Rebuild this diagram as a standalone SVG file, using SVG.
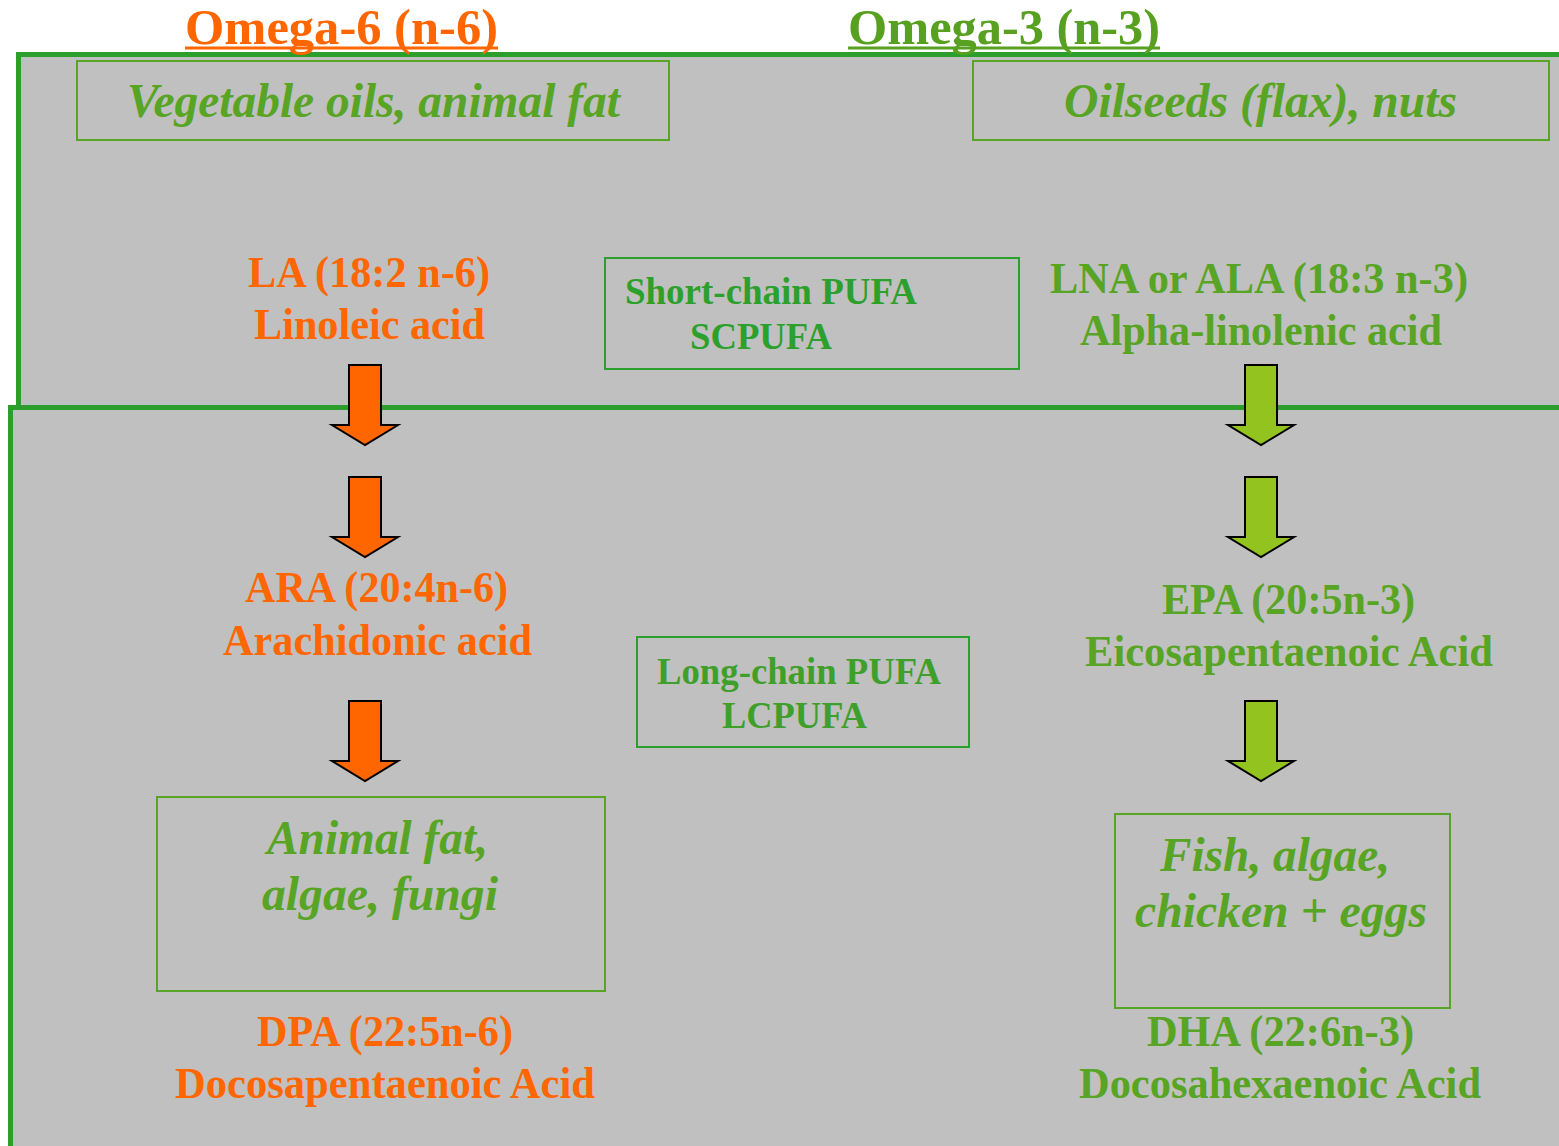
<svg xmlns="http://www.w3.org/2000/svg" width="1559" height="1146" viewBox="0 0 1559 1146">
<defs>
<style>
.t{font-family:"Liberation Serif","Times New Roman",serif;font-weight:bold;}
.it{font-family:"Liberation Serif","Times New Roman",serif;font-weight:bold;font-style:italic;font-size:48px;fill:#58a424;}
.or{fill:#ff6600;font-size:45px;}
.gr{fill:#58a424;font-size:45px;}
.src{fill:none;stroke:#58a424;stroke-width:2;}
.pu{fill:none;stroke:#2ca02c;stroke-width:2;}
.ao{fill:#ff6600;stroke:#000;stroke-width:2;}
.ag{fill:#92c31f;stroke:#000;stroke-width:2;}
</style>
</defs>
<rect width="1559" height="1146" fill="#ffffff"/>
<g id="panel-short">
<rect x="18.5" y="54.5" width="1560" height="353" fill="#c0c0c0" stroke="#2b9e2b" stroke-width="5"/>
</g>
<g id="panel-long">
<rect x="10.5" y="407.5" width="1570" height="760" fill="#c0c0c0" stroke="#2b9e2b" stroke-width="5"/>
</g>
<g id="heading-omega6">
<text class="t" x="341.5" y="44" font-size="50" fill="#ff6600" text-anchor="middle" textLength="313" lengthAdjust="spacingAndGlyphs">Omega-6 (n-6)</text>
<rect x="185" y="46.5" width="313" height="3" fill="#ff6600"/>
</g>
<g id="heading-omega3">
<text class="t" x="1004" y="44" font-size="50" fill="#58a020" text-anchor="middle" textLength="312" lengthAdjust="spacingAndGlyphs">Omega-3 (n-3)</text>
<rect x="848" y="46.5" width="312" height="3" fill="#58a020"/>
</g>
<g id="src-veg">
<rect class="src" x="77" y="61" width="592" height="79"/>
<text class="it" x="373.5" y="117" text-anchor="middle" textLength="493" lengthAdjust="spacingAndGlyphs">Vegetable oils, animal fat</text>
</g>
<g id="src-oilseeds">
<rect class="src" x="973" y="61" width="576" height="79"/>
<text class="it" x="1260.5" y="117" text-anchor="middle" textLength="393" lengthAdjust="spacingAndGlyphs">Oilseeds (flax), nuts</text>
</g>
<g id="la">
<text class="t or" x="369" y="287" text-anchor="middle" textLength="242" lengthAdjust="spacingAndGlyphs">LA (18:2 n-6)</text>
<text class="t or" x="369.5" y="339" text-anchor="middle" textLength="231" lengthAdjust="spacingAndGlyphs">Linoleic acid</text>
</g>
<g id="scpufa">
<rect class="pu" x="605" y="258" width="414" height="111"/>
<text class="t" x="625" y="304" font-size="38" fill="#2ca02c" textLength="292" lengthAdjust="spacingAndGlyphs">Short-chain PUFA</text>
<text class="t" x="690" y="349" font-size="38" fill="#2ca02c" textLength="142" lengthAdjust="spacingAndGlyphs">SCPUFA</text>
</g>
<g id="ala">
<text class="t gr" x="1259" y="293" text-anchor="middle" textLength="418" lengthAdjust="spacingAndGlyphs">LNA or ALA (18:3 n-3)</text>
<text class="t gr" x="1261" y="345" text-anchor="middle" textLength="362" lengthAdjust="spacingAndGlyphs">Alpha-linolenic acid</text>
</g>
<g id="ara">
<text class="t or" x="376.5" y="602" text-anchor="middle" textLength="263" lengthAdjust="spacingAndGlyphs">ARA (20:4n-6)</text>
<text class="t or" x="377.5" y="655" text-anchor="middle" textLength="309" lengthAdjust="spacingAndGlyphs">Arachidonic acid</text>
</g>
<g id="lcpufa">
<rect class="pu" x="637" y="637" width="332" height="110"/>
<text class="t" x="657" y="684" font-size="38" fill="#3ea02a" textLength="284" lengthAdjust="spacingAndGlyphs">Long-chain PUFA</text>
<text class="t" x="722" y="728" font-size="38" fill="#3ea02a" textLength="145" lengthAdjust="spacingAndGlyphs">LCPUFA</text>
</g>
<g id="epa">
<text class="t gr" x="1288.5" y="614" text-anchor="middle" textLength="253" lengthAdjust="spacingAndGlyphs">EPA (20:5n-3)</text>
<text class="t gr" x="1289" y="666" text-anchor="middle" textLength="408" lengthAdjust="spacingAndGlyphs">Eicosapentaenoic Acid</text>
</g>
<g id="src-animal">
<rect class="src" x="157" y="797" width="448" height="194"/>
<text class="it" x="377.5" y="854" text-anchor="middle" textLength="221" lengthAdjust="spacingAndGlyphs">Animal fat,</text>
<text class="it" x="380" y="910" text-anchor="middle" textLength="236" lengthAdjust="spacingAndGlyphs">algae, fungi</text>
</g>
<g id="src-fish">
<rect class="src" x="1115" y="814" width="335" height="194"/>
<text class="it" x="1275" y="871" text-anchor="middle" textLength="230" lengthAdjust="spacingAndGlyphs">Fish, algae,</text>
<text class="it" x="1281" y="927" text-anchor="middle" textLength="292" lengthAdjust="spacingAndGlyphs">chicken + eggs</text>
</g>
<g id="dpa">
<text class="t or" x="385" y="1046" text-anchor="middle" textLength="256" lengthAdjust="spacingAndGlyphs">DPA (22:5n-6)</text>
<text class="t or" x="385" y="1098" text-anchor="middle" textLength="420" lengthAdjust="spacingAndGlyphs">Docosapentaenoic Acid</text>
</g>
<g id="dha">
<text class="t gr" x="1280.5" y="1046" text-anchor="middle" textLength="267" lengthAdjust="spacingAndGlyphs">DHA (22:6n-3)</text>
<text class="t gr" x="1280" y="1098" text-anchor="middle" textLength="402" lengthAdjust="spacingAndGlyphs">Docosahexaenoic Acid</text>
</g>
<g id="connectors">
<polygon class="ao" points="349,365 381,365 381,425 398,425 365,445 332,425 349,425"/>
<polygon class="ao" points="349,477 381,477 381,537 398,537 365,557 332,537 349,537"/>
<polygon class="ao" points="349,701 381,701 381,761 398,761 365,781 332,761 349,761"/>
<polygon class="ag" points="1245,365 1277,365 1277,425 1294,425 1261,445 1228,425 1245,425"/>
<polygon class="ag" points="1245,477 1277,477 1277,537 1294,537 1261,557 1228,537 1245,537"/>
<polygon class="ag" points="1245,701 1277,701 1277,761 1294,761 1261,781 1228,761 1245,761"/>
</g>
</svg>
